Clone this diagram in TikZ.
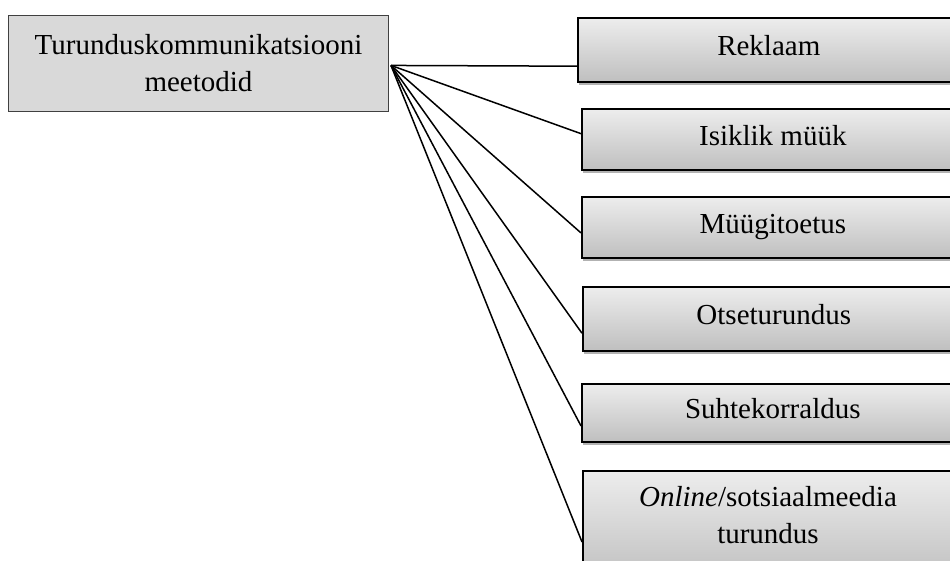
\documentclass[tikz,border=0pt]{standalone}
\usepackage{fontspec}
\setmainfont{Liberation Serif}
\usetikzlibrary{calc,shadows}
\begin{document}
\begin{tikzpicture}[x=1pt,y=-1pt,
  lbox/.style={draw=black!75, line width=1pt, fill=black!15, inner sep=0pt,
    minimum width=380pt, minimum height=96pt, align=center, anchor=north west,
    font=\fontsize{29}{37}\selectfont},
  rbox/.style={draw=black, line width=1.6pt, top color=black!7, bottom color=black!25,
    inner sep=0pt, minimum width=382pt, anchor=north west,
    text height=20pt, text depth=8pt,
    font=\fontsize{29}{37}\selectfont,
    drop shadow={shadow xshift=1.5pt, shadow yshift=-3pt, fill=black, opacity=0.3}},
  rtxt/.style={inner sep=0pt, align=center, anchor=north, font=\fontsize{29}{37}\selectfont},
  link/.style={draw=black, line width=1.5pt}]
\useasboundingbox (0,0) rectangle (950,561);
\clip (0,0) rectangle (950,561);
\fill[white] (0,0) rectangle (950,561);

\node[lbox] (lb) at (8,15) {Turunduskommunikatsiooni\\meetodid};
\coordinate (hub) at ($(lb.north east)!0.52!(lb.south east)+(2,0)$);

\node[rbox, minimum height=64pt] (r1) at (577,17) {Reklaam};
\node[rbox, minimum height=61pt] (r2) at (581,108) {Isiklik müük};
\node[rbox, minimum height=61pt] (r3) at (581,196) {Müügitoetus};
\node[rbox, minimum height=64pt] (r4) at (582,286) {Otseturundus};
\node[rbox, minimum height=58pt] (r5) at (581,383) {Suhtekorraldus};
\node[rbox, minimum height=110pt] (r6) at (582,470) {};
\node[rtxt] (r6t) at (768,486) {\textit{Online}/sotsiaalmeedia\\turundus};

\draw[link] (hub) -- ($(r1.north west)!0.75!(r1.south west)$);
\draw[link] (hub) -- ($(r2.north west)!0.41!(r2.south west)$);
\draw[link] (hub) -- ($(r3.north west)!0.59!(r3.south west)$);
\draw[link] (hub) -- ($(r4.north west)!0.72!(r4.south west)$);
\draw[link] (hub) -- ($(r5.north west)!0.72!(r5.south west)$);
\draw[link] (hub) -- ($(r6.north west)!0.645!(r6.south west)$);
\end{tikzpicture}
\end{document}
